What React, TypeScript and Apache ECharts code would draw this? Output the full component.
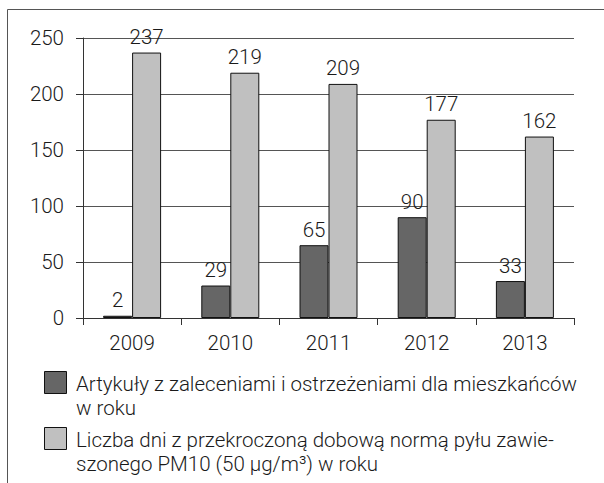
import React, { useEffect, useRef } from "react";
import * as echarts from "echarts";

const years = ["2009", "2010", "2011", "2012", "2013"];
const articles = [2, 29, 65, 90, 33];
const days = [237, 219, 209, 177, 162];
const legendLines1 = ["Artykuły z zaleceniami i ostrzeżeniami dla mieszkańców", "w roku"];
const legendLines2 = ["Liczba dni z przekroczoną dobową normą pyłu zawie-", "szonego PM10 (50 µg/m³) w roku"];

const FONT = "Roboto";
const FW = 300;
const FS = 20.5;
const TXT = "#1a1a1a";

export default function App() {
  const ref = useRef<HTMLDivElement>(null);
  useEffect(() => {
    const chart = echarts.init(ref.current!, null, { renderer: "svg" });
    const lbl = { color: TXT, fontSize: FS, fontFamily: FONT, fontWeight: FW };
    chart.setOption({
      animation: false,
      backgroundColor: "#fff",
      textStyle: { fontFamily: FONT },
      grid: { left: 83, right: 30, top: 38, bottom: 165 },
      xAxis: {
        type: "category",
        data: years,
        axisLine: { lineStyle: { color: "#333", width: 1 } },
        axisTick: { show: true, length: 7, lineStyle: { color: "#333" } },
        axisLabel: { ...lbl, margin: 14 },
      },
      yAxis: {
        type: "value",
        min: 0,
        max: 250,
        interval: 50,
        axisLine: { show: true, lineStyle: { color: "#333", width: 1 } },
        axisTick: { show: true, length: 7, lineStyle: { color: "#333" } },
        axisLabel: { ...lbl, margin: 19 },
        splitLine: { lineStyle: { color: "#555", width: 1 } },
      },
      series: [
        {
          type: "bar",
          data: articles,
          barWidth: 29,
          barGap: "0%",
          itemStyle: { color: "#666666", borderColor: "#111", borderWidth: 1 },
          label: { show: true, position: "top", distance: 5, ...lbl },
        },
        {
          type: "bar",
          data: days,
          barWidth: 29,
          barGap: "0%",
          itemStyle: { color: "#c0c0c0", borderColor: "#111", borderWidth: 1 },
          label: { show: true, position: "top", distance: 5, ...lbl },
        },
      ],
      graphic: [
        { type: "line", shape: { x1: 7.5, y1: 9.5, x2: 604, y2: 9.5 }, style: { stroke: "#555", lineWidth: 1 } },
        { type: "line", shape: { x1: 7.5, y1: 9.5, x2: 7.5, y2: 483 }, style: { stroke: "#555", lineWidth: 1 } },
        { type: "rect", shape: { x: 44.5, y: 371.5, width: 22, height: 22 }, style: { fill: "#666666", stroke: "#111", lineWidth: 1 } },
        { type: "rect", shape: { x: 44.5, y: 427.5, width: 22, height: 22 }, style: { fill: "#c0c0c0", stroke: "#111", lineWidth: 1 } },
        { type: "text", x: 76, y: 384, style: { text: legendLines1[0], font: `${FW} ${FS}px "${FONT}"`, fill: TXT, textVerticalAlign: "middle" } },
        { type: "text", x: 76, y: 408, style: { text: legendLines1[1], font: `${FW} ${FS}px "${FONT}"`, fill: TXT, textVerticalAlign: "middle" } },
        { type: "text", x: 76, y: 440, style: { text: legendLines2[0], font: `${FW} ${FS}px "${FONT}"`, fill: TXT, textVerticalAlign: "middle" } },
        { type: "text", x: 76, y: 464, style: { text: legendLines2[1], font: `${FW} ${FS}px "${FONT}"`, fill: TXT, textVerticalAlign: "middle" } },
      ],
    });
    return () => chart.dispose();
  }, []);
  return <div ref={ref} style={{ width: 604, height: 483, position: "absolute", left: 0, top: 0 }} />;
}
